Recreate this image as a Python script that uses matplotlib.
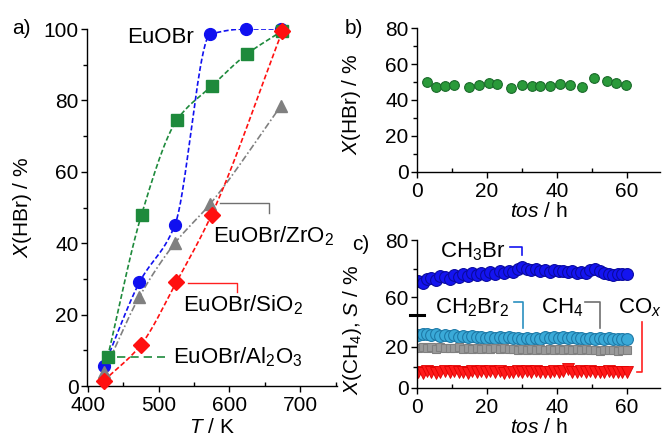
"""
Catalyst HBr oxidation: conversion vs temperature, and stability over time on stream
"""

import numpy as np
import matplotlib
matplotlib.use('Agg')
import matplotlib.pyplot as plt
from matplotlib.ticker import MultipleLocator

plt.rcParams['font.family'] = 'Liberation Sans'
plt.rcParams['font.size'] = 15
plt.rcParams['mathtext.fontset'] = 'custom'
plt.rcParams['mathtext.rm'] = 'Liberation Sans'
plt.rcParams['mathtext.it'] = 'Liberation Sans:italic'

# a) X(HBr) vs T
T_euobr = [423, 473, 523, 573, 623, 673]
X_euobr = [5.5, 29, 45, 98.5, 100, 100]
T_al2o3 = [428, 476, 526, 575, 625, 675]
X_al2o3 = [8, 48, 74.5, 84, 93, 99.5]
T_zro2 = [423, 473, 523, 573, 673]
X_zro2 = [4, 25, 40, 51, 78.5]
T_sio2 = [423, 475, 525, 575, 675]
X_sio2 = [1.5, 11.5, 29, 48, 99.5]

# b) X(HBr) vs tos
tos_b = [2.8, 5.4, 8.0, 10.6, 14.9, 17.8, 20.6, 23.0, 27.0, 30.0,
         33.0, 35.3, 38.0, 41.0, 43.9, 47.2, 50.5, 54.3, 57.0, 59.8]
X_b = [49.8, 47.2, 48.0, 48.5, 47.0, 48.5, 49.4, 48.9, 46.7, 48.5,
       47.6, 47.6, 48.0, 48.9, 48.1, 47.0, 52.2, 50.4, 49.4, 48.5]

# c) X(CH4), S vs tos
tos_c = [0.3, 1.6, 2.8, 4.1, 5.4, 6.7, 8.0, 9.3, 10.6, 11.9, 13.2, 14.5,
         15.8, 17.1, 18.4, 19.7, 21.0, 22.3, 23.6, 24.9, 26.2, 27.5, 28.8,
         30.1, 31.4, 32.7, 34.0, 35.3, 36.6, 37.9, 39.2, 40.5, 41.8, 43.1,
         44.4, 45.7, 47.0, 48.3, 49.6, 50.9, 52.2, 53.5, 54.8, 56.1, 57.4,
         58.7, 60.0]
S_ch3br = [65.5, 65.0, 66.2, 66.8, 66.0, 67.3, 67.0, 66.5, 67.8, 67.2, 68.0, 67.5,
           68.3, 67.6, 68.5, 67.9, 68.8, 68.2, 69.0, 68.4, 69.3, 68.7, 69.8,
           70.4, 70.0, 69.4, 69.9, 69.2, 69.6, 68.9, 69.5, 69.0, 69.3, 68.7,
           69.1, 68.5, 68.9, 68.3, 69.5, 70.0, 69.2, 68.5, 68.0, 67.8, 68.2,
           68.0, 68.0]
S_ch2br2 = [26.0, 26.5, 26.2, 25.8, 26.3, 25.6, 25.9, 25.2, 25.7, 25.0, 25.4, 24.9,
            25.3, 24.8, 25.1, 24.6, 25.0, 24.5, 24.9, 24.3, 24.7, 24.2, 24.6,
            23.8, 24.3, 24.0, 24.5, 23.9, 24.8, 24.2, 24.9, 24.4, 25.1, 24.5,
            24.8, 24.2, 24.6, 24.0, 24.4, 23.9, 24.3, 24.0, 24.2, 24.0, 24.1,
            23.9, 24.0]
S_ch4 = [19.5, 20.0, 19.6, 19.8, 19.2, 19.9, 19.4, 19.7, 19.3, 19.8, 19.1, 19.6,
         19.0, 19.5, 19.2, 19.7, 18.9, 19.4, 19.0, 19.3, 18.8, 19.2, 18.7,
         19.1, 18.6, 19.0, 18.5, 19.0, 18.7, 19.2, 18.6, 19.1, 18.4, 18.9,
         18.5, 19.0, 18.6, 18.8, 18.3, 18.7, 18.2, 18.6, 18.4, 18.5, 18.2,
         18.4, 18.3]
S_cox = [8.0, 7.5, 8.2, 7.8, 7.4, 7.9, 8.1, 7.6, 8.3, 7.7, 8.0, 7.5,
         8.2, 7.9, 8.4, 7.6, 8.1, 7.8, 8.3, 7.5, 8.0, 7.7, 8.2,
         7.6, 8.1, 7.9, 8.3, 7.7, 8.0, 7.6, 8.2, 7.8, 8.1, 9.2,
         8.0, 7.7, 8.3, 7.9, 8.1, 7.6, 8.0, 7.8, 8.2, 7.7, 8.0,
         7.8, 7.9]

ANN = 16  # annotation font size


def pchip(x, y, xs):
    # monotone cubic guide line through the measured points
    x = np.asarray(x, float)
    y = np.asarray(y, float)
    h = np.diff(x)
    d = np.diff(y) / h
    m = np.zeros_like(y)
    m[0], m[-1] = d[0], d[-1]
    for k in range(1, len(x) - 1):
        if d[k - 1] * d[k] > 0:
            w1 = 2 * h[k] + h[k - 1]
            w2 = h[k] + 2 * h[k - 1]
            m[k] = (w1 + w2) / (w1 / d[k - 1] + w2 / d[k])
    i = np.clip(np.searchsorted(x, xs) - 1, 0, len(x) - 2)
    t = (xs - x[i]) / h[i]
    return ((2 * t**3 - 3 * t**2 + 1) * y[i] + (t**3 - 2 * t**2 + t) * h[i] * m[i]
            + (-2 * t**3 + 3 * t**2) * y[i + 1] + (t**3 - t**2) * h[i] * m[i + 1])


def style(ax):
    ax.spines['top'].set_visible(False)
    ax.spines['right'].set_visible(False)
    for s in ax.spines.values():
        s.set_linewidth(1.0)
    ax.tick_params(axis='y', which='major', direction='out', length=4, width=1, pad=2)
    ax.tick_params(axis='y', which='minor', direction='out', length=3, width=1)
    ax.tick_params(axis='x', which='major', direction='out', length=4, width=1, pad=3)
    ax.tick_params(axis='x', which='minor', direction='in', length=3, width=1)


fig = plt.figure(figsize=(6.64, 4.41), dpi=100)

# ---------------- a)
ax1 = fig.add_axes([0.131, 0.1247, 0.3765, 0.8095])
style(ax1)
series = [
    (T_euobr, X_euobr, '#1010f0', 'o', 8.5, (0, (3, 1.5))),
    (T_al2o3, X_al2o3, '#1e8a3c', 's', 8, (0, (3, 1.5))),
    (T_zro2, X_zro2, '#808080', '^', 8, (0, (4, 1.5, 1, 1.5))),
    (T_sio2, X_sio2, '#ff1010', 'D', 8, (0, (3, 1.5))),
]
for xs, ys, c, mk, ms, ls in series:
    tt = np.linspace(xs[0], xs[-1], 200)
    ax1.plot(tt, pchip(xs, ys, tt), color=c, lw=1.2, ls=ls)
for xs, ys, c, mk, ms, ls in series:
    ax1.plot(xs, ys, ls='none', marker=mk, ms=ms, color=c, mec=c, clip_on=False, zorder=3)

ax1.set_xlim(399, 752)
ax1.set_ylim(0, 100)
ax1.xaxis.set_major_locator(MultipleLocator(100))
ax1.xaxis.set_minor_locator(MultipleLocator(50))
ax1.yaxis.set_major_locator(MultipleLocator(20))
ax1.yaxis.set_minor_locator(MultipleLocator(10))
ax1.set_xlabel(r'$T$ / K', labelpad=2)
ax1.set_ylabel(r'$X$(HBr) / %')
ax1.yaxis.set_label_coords(-0.21, 0.5)

ax1.text(503, 97.5, 'EuOBr', ha='center', va='center', fontsize=ANN)
ax1.plot([587, 656, 656], [51.3, 51.3, 48.5], color='#707070', lw=1)
ax1.text(577, 42, r'EuOBr/ZrO$_2$', ha='left', va='center', fontsize=ANN)
ax1.plot([541, 611, 611], [28.8, 28.8, 26.4], color='#ff2020', lw=1)
ax1.text(534, 22.5, r'EuOBr/SiO$_2$', ha='left', va='center', fontsize=ANN)
ax1.plot([441, 509], [8, 8], color='#1e8a3c', lw=1.2, ls=(0, (5, 3)))
ax1.text(520, 8, r'EuOBr/Al$_2$O$_3$', ha='left', va='center', fontsize=ANN)
fig.text(0.018, 1 - 29 / 441, 'a)', ha='left', va='center')

# ---------------- b)
ax2 = fig.add_axes([0.628, 0.610, 0.366, 0.3265])
style(ax2)
ax2.plot(tos_b, X_b, ls='none', marker='o', ms=7, color='#2a9a3a', mec='#1a6a2a', mew=0.8)
ax2.set_xlim(0, 69.5)
ax2.set_ylim(0, 80)
ax2.xaxis.set_major_locator(MultipleLocator(20))
ax2.xaxis.set_minor_locator(MultipleLocator(10))
ax2.yaxis.set_major_locator(MultipleLocator(20))
ax2.yaxis.set_minor_locator(MultipleLocator(10))
ax2.set_xlabel(r'$tos$ / h', labelpad=1)
ax2.set_ylabel(r'$X$(HBr) / %')
ax2.yaxis.set_label_coords(-0.222, 0.47)
fig.text(345 / 664, 1 - 29 / 441, 'b)', ha='left', va='center')

# ---------------- c) broken y axis
ax3 = fig.add_axes([0.628, 0.1202, 0.366, 0.1655])
ax4 = fig.add_axes([0.628, 0.2857, 0.366, 0.170], sharex=ax3)
style(ax3)
style(ax4)
ax3.spines['top'].set_visible(False)
ax4.spines['bottom'].set_visible(False)
ax4.tick_params(axis='x', which='both', bottom=False, labelbottom=False)
for a in (ax3, ax4):
    a.patch.set_alpha(0)

ax4.plot(tos_c, S_ch3br, ls='none', marker='o', ms=8.5, color='#1414f0', mec='#0a0aa0', mew=0.8)
ax3.plot(tos_c, S_ch2br2, ls='none', marker='o', ms=8.5, color='#3aaad8', mec='#1e7aa8', mew=0.8)
ax3.plot(tos_c, S_ch4, ls='none', marker='s', ms=6, color='#9a9a9a', mec='#808080', mew=0.8)
ax3.plot(tos_c, S_cox, ls='none', marker='v', ms=8, color='#ff1a1a', mec='#e00000', mew=0.6)

ax3.set_xlim(0, 69.5)
ax3.set_ylim(0, 35.6)
ax4.set_ylim(53.7, 80)
ax3.xaxis.set_major_locator(MultipleLocator(20))
ax3.xaxis.set_minor_locator(MultipleLocator(10))
ax3.set_yticks([0, 20])
ax3.set_yticks([10], minor=True)
ax4.set_yticks([60, 80])
ax4.set_yticks([70], minor=True)
ax3.set_xlabel(r'$tos$ / h', labelpad=1)
ax3.plot([-0.03, 0.03], [1.0, 1.0], transform=ax3.transAxes, color='k', lw=2.2,
         clip_on=False)

ax4.text(16, 75.8, r'CH$_3$Br', ha='center', va='center', fontsize=ANN)
ax4.plot([26.5, 30, 30], [77.5, 77.5, 74.7], color='#1414f0', lw=1.2, clip_on=False)
ax3.text(15.7, 39, r'CH$_2$Br$_2$', ha='center', va='center', fontsize=ANN)
ax3.plot([27.8, 30.2, 30.2], [42, 42, 29.3], color='#2a90c0', lw=1.2, clip_on=False)
ax3.text(41.4, 39, r'CH$_4$', ha='center', va='center', fontsize=ANN)
ax3.plot([48.0, 52.3, 52.3], [42, 42, 29.3], color='#707070', lw=1.2, clip_on=False)
ax3.text(57.6, 39, r'CO$_x$', ha='left', va='center', fontsize=ANN)
ax3.plot([64.3, 64.3, 62.9], [32.2, 7.8, 7.8], color='#ff2020', lw=1.2, clip_on=False)

fig.text(352 / 664, 1 - 330 / 441, r'$X$(CH$_4$), $S$ / %', rotation=90,
         ha='center', va='center')
fig.text(352 / 664, 1 - 244 / 441, 'c)', ha='left', va='center')

fig.savefig('out.png', dpi=100)
